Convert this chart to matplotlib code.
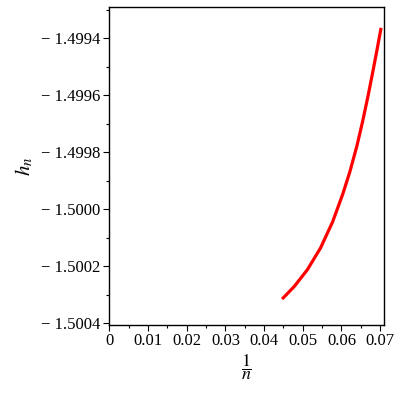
import matplotlib
matplotlib.use('Agg')
import matplotlib.pyplot as plt
from matplotlib.ticker import FixedLocator, MultipleLocator

# curve points
inv_n = [0.04466, 0.04779, 0.05119, 0.05458, 0.05772, 0.06033, 0.06216,
         0.06399, 0.06555, 0.06686, 0.06817, 0.06921, 0.07025]
h_n = [-1.500316, -1.500272, -1.500213, -1.500137, -1.500045, -1.499948, -1.499870,
       -1.499779, -1.499688, -1.499604, -1.499514, -1.499440, -1.499364]

x_ticks = [0, 0.01, 0.02, 0.03, 0.04, 0.05, 0.06, 0.07]
x_labels = ['0', '0.01', '0.02', '0.03', '0.04', '0.05', '0.06', '0.07']
y_ticks = [-1.4994, -1.4996, -1.4998, -1.5000, -1.5002, -1.5004]
y_labels = ['\u2212 1.4994', '\u2212 1.4996', '\u2212 1.4998', '\u2212 1.5000', '\u2212 1.5002', '\u2212 1.5004']

plt.rcParams['font.family'] = ['Liberation Serif', 'DejaVu Serif']
plt.rcParams['mathtext.fontset'] = 'stix'

fig = plt.figure(figsize=(4, 4), dpi=100)
ax = fig.add_axes([0.2725, 0.1875, 0.6875, 0.795])

ax.plot(inv_n, h_n, color='#ff0000', lw=2.3, solid_joinstyle='round', solid_capstyle='butt')

ax.set_xlim(-0.00008, 0.0710)
ax.set_ylim(-1.500407, -1.499291)

ax.xaxis.set_major_locator(FixedLocator(x_ticks))
ax.set_xticklabels(x_labels)
ax.xaxis.set_minor_locator(MultipleLocator(0.005))
ax.yaxis.set_major_locator(FixedLocator(y_ticks))
ax.set_yticklabels(y_labels)
ax.yaxis.set_minor_locator(MultipleLocator(0.0001))

ax.tick_params(which='major', direction='out', length=4, width=0.8, labelsize=12, pad=2)
ax.tick_params(which='minor', direction='out', length=2.5, width=0.8)
for s in ax.spines.values():
    s.set_linewidth(1.0)

ax.set_xlabel(r'$\dfrac{1}{n}$', fontsize=13, labelpad=2)
ax.set_ylabel(r'$h_n$', fontsize=15, labelpad=4)

fig.savefig('out.png', dpi=100)
